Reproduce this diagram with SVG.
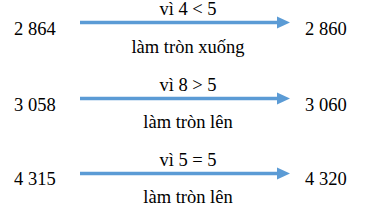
<svg xmlns="http://www.w3.org/2000/svg" width="374" height="219" viewBox="0 0 374 219">
<style>
text{font-family:'Liberation Serif','Times New Roman','DejaVu Serif',serif;font-size:18.5px;fill:#000}
.c{text-anchor:middle}
.ln{stroke:#5b9bd5;stroke-width:3.5;fill:none}
.hd{fill:#5b9bd5}
</style>
<rect width="374" height="219" fill="#fff"/>
<g id="connectors">
<line class="ln" x1="80" y1="22.5" x2="278" y2="22.5"/>
<polygon class="hd" points="277,16.5 290,22.5 277,28.5"/>
<line class="ln" x1="80" y1="98.5" x2="278" y2="98.5"/>
<polygon class="hd" points="277,92.5 290,98.5 277,104.5"/>
<line class="ln" x1="80" y1="173.5" x2="278" y2="173.5"/>
<polygon class="hd" points="277,167.5 290,173.5 277,179.5"/>
</g>
<g id="row1">
<text x="14" y="35">2 864</text>
<text class="c" x="188" y="15">vì 4 &lt; 5</text>
<text x="305" y="35">2 860</text>
<text class="c" x="188" y="53">làm tròn xuống</text>
</g>
<g id="row2">
<text x="14" y="110.5">3 058</text>
<text class="c" x="188" y="90.5">vì 8 &gt; 5</text>
<text x="305" y="110.5">3 060</text>
<text class="c" x="188" y="128">làm tròn lên</text>
</g>
<g id="row3">
<text x="14" y="185">4 315</text>
<text class="c" x="188" y="165.5">vì 5 = 5</text>
<text x="305" y="185">4 320</text>
<text class="c" x="188" y="203">làm tròn lên</text>
</g>
</svg>
